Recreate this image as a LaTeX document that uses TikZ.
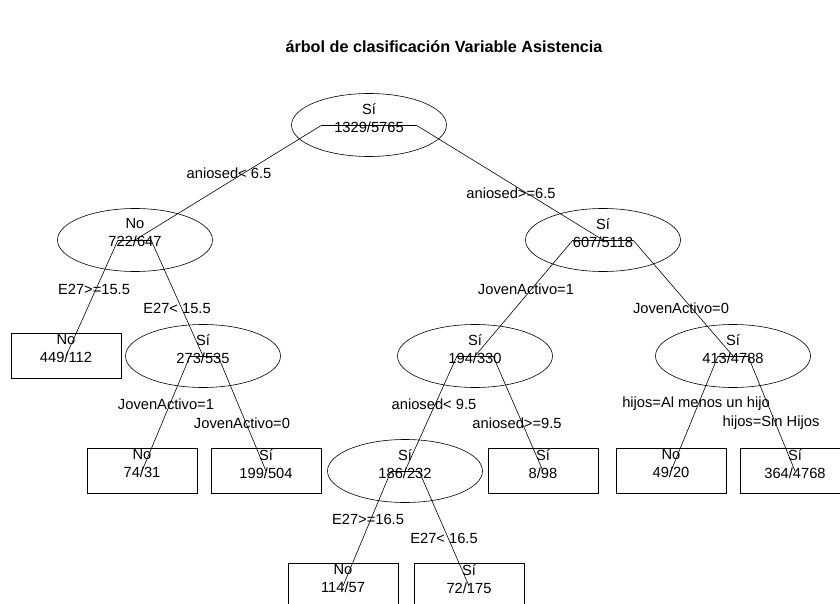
\documentclass[tikz,border=0pt]{standalone}
\usepackage{fontspec}
\setmainfont{Liberation Sans}
\usetikzlibrary{shapes.geometric}

\begin{document}
\begin{tikzpicture}[x=1pt, y=-1pt, line width=0.6pt,
    split/.style={draw, ellipse, minimum width=155pt, minimum height=63pt, inner sep=0pt},
    leafbox/.style={draw, rectangle, minimum width=110pt, minimum height=45pt, inner sep=0pt},
    txt/.style={align=center, inner sep=0pt, font=\fontsize{14.7}{18}\selectfont},
    rule/.style={inner sep=0pt, font=\fontsize{14.7}{18}\selectfont}]
    \useasboundingbox (0,0) rectangle (840,604);
    \clip (0,0) rectangle (840,604);

    % Title
    \node[font=\bfseries\fontsize{16.2}{19}\selectfont] (title) at (444,47) {árbol de clasificación Variable Asistencia};

    % Split nodes
    \node[split] (root) at (369,125) {};
    \node[split] (n2) at (135,240) {};
    \node[split] (n3) at (603,240) {};
    \node[split] (n5) at (203,356) {};
    \node[split] (n6) at (475,356) {};
    \node[split] (n7) at (733,356) {};
    \node[split] (n10) at (405,471) {};

    % Leaves
    \node[leafbox] (n4) at (66,356) {};
    \node[leafbox] (n8) at (142,471) {};
    \node[leafbox] (n9) at (266,471) {};
    \node[leafbox] (n11) at (543,471) {};
    \node[leafbox] (n12) at (671,471) {};
    \node[leafbox] (n13) at (795,471) {};
    \node[leafbox] (n14) at (343,586) {};
    \node[leafbox] (n15) at (469,586) {};

    % Class and counts
    \node[txt] (rootT) at ([yshift=7pt]root.center) {Sí\\1329/5765};
    \node[txt] (n2T) at ([yshift=7pt]n2.center) {No\\722/647};
    \node[txt] (n3T) at ([yshift=7pt]n3.center) {Sí\\607/5118};
    \node[txt] (n4T) at ([yshift=7pt]n4.center) {No\\449/112};
    \node[txt] (n5T) at ([yshift=7pt]n5.center) {Sí\\273/535};
    \node[txt] (n6T) at ([yshift=7pt]n6.center) {Sí\\194/330};
    \node[txt] (n7T) at ([yshift=7pt]n7.center) {Sí\\413/4788};
    \node[txt] (n8T) at ([yshift=7pt]n8.center) {No\\74/31};
    \node[txt] (n9T) at ([yshift=7pt]n9.center) {Sí\\199/504};
    \node[txt] (n10T) at ([yshift=7pt]n10.center) {Sí\\186/232};
    \node[txt] (n11T) at ([yshift=7pt]n11.center) {Sí\\8/98};
    \node[txt] (n12T) at ([yshift=7pt]n12.center) {No\\49/20};
    \node[txt] (n13T) at ([yshift=7pt]n13.center) {Sí\\364/4768};
    \node[txt] (n14T) at ([yshift=7pt]n14.center) {No\\114/57};
    \node[txt] (n15T) at ([yshift=7pt]n15.center) {Sí\\72/175};

    % Split points
    \coordinate (rootL) at ([xshift=-47pt]root.center);
    \coordinate (rootR) at ([xshift=47pt]root.center);
    \coordinate (n2L) at ([xshift=-17pt]n2.center);
    \coordinate (n2R) at ([xshift=16pt]n2.center);
    \coordinate (n3L) at ([xshift=-30pt]n3.center);
    \coordinate (n3R) at ([xshift=30pt]n3.center);
    \coordinate (n5L) at ([xshift=-13pt]n5.center);
    \coordinate (n5R) at ([xshift=15pt]n5.center);
    \coordinate (n6L) at ([xshift=-18pt]n6.center);
    \coordinate (n6R) at ([xshift=18pt]n6.center);
    \coordinate (n7L) at ([xshift=-15pt]n7.center);
    \coordinate (n7R) at ([xshift=15pt]n7.center);
    \coordinate (n10L) at ([xshift=-14pt]n10.center);
    \coordinate (n10R) at ([xshift=14pt]n10.center);

    % Branches
    \draw (rootL) -- (rootR);
    \draw (rootL) -- (n2.center);
    \draw (rootR) -- (n3.center);
    \draw (n2L) -- (n2R);
    \draw (n2L) -- (n4.center);
    \draw (n2R) -- (n5.center);
    \draw (n3L) -- (n3R);
    \draw (n3L) -- (n6.center);
    \draw (n3R) -- (n7.center);
    \draw (n5L) -- (n5R);
    \draw (n5L) -- (n8.center);
    \draw (n5R) -- (n9.center);
    \draw (n6L) -- (n6R);
    \draw (n6L) -- (n10.center);
    \draw (n6R) -- (n11.center);
    \draw (n7L) -- (n7R);
    \draw (n7L) -- (n12.center);
    \draw (n7R) -- (n13.center);
    \draw (n10L) -- (n10R);
    \draw (n10L) -- (n14.center);
    \draw (n10R) -- (n15.center);

    % Split rules
    \node[rule] (r1) at (229,173) {aniosed< 6.5};
    \node[rule] (r2) at (511,193) {aniosed>=6.5};
    \node[rule] (r3) at (94,289) {E27>=15.5};
    \node[rule] (r4) at (177,308) {E27< 15.5};
    \node[rule] (r5) at (526,289) {JovenActivo=1};
    \node[rule] (r6) at (681,308) {JovenActivo=0};
    \node[rule] (r7) at (166,404) {JovenActivo=1};
    \node[rule] (r8) at (242,423) {JovenActivo=0};
    \node[rule] (r9) at (434,404) {aniosed< 9.5};
    \node[rule] (r10) at (517,423) {aniosed>=9.5};
    \node[rule] (r11) at (696,404) {hijos=Al menos un hijo};
    \node[rule] (r12) at (771,423) {hijos=Sin Hijos};
    \node[rule] (r13) at (368,519) {E27>=16.5};
    \node[rule] (r14) at (444,538) {E27< 16.5};
\end{tikzpicture}
\end{document}
